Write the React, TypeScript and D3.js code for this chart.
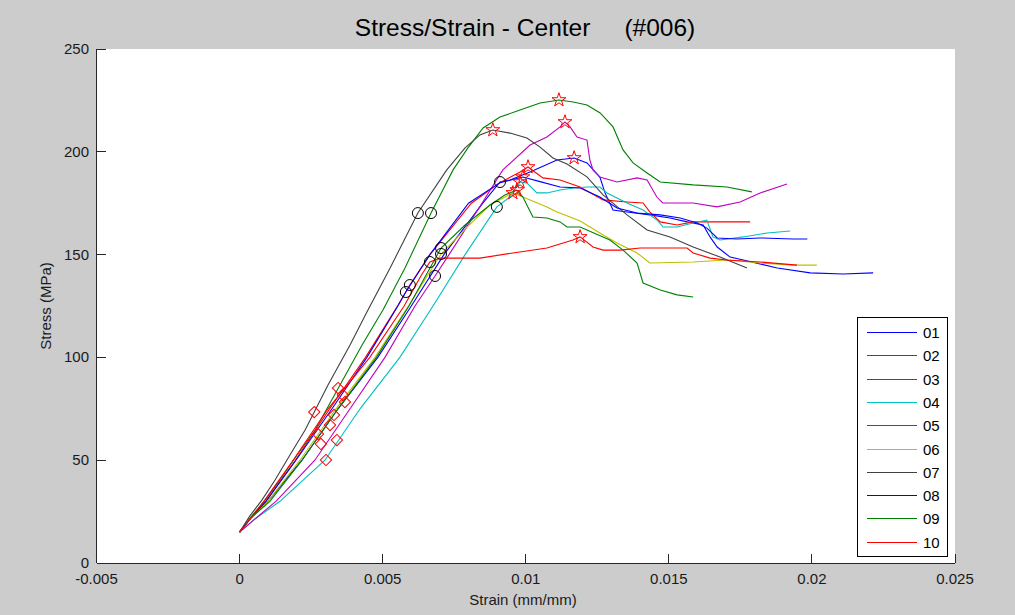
import React from "react";
import * as d3 from "d3";

type P = [number, number];

const TITLE = "Stress/Strain - Center     (#006)";
const X_LABEL = "Strain (mm/mm)";
const Y_LABEL = "Stress (MPa)";
const X_TICKS = [-0.005, 0, 0.005, 0.01, 0.015, 0.02, 0.025];
const X_TICK_LABELS = ["-0.005", "0", "0.005", "0.01", "0.015", "0.02", "0.025"];
const Y_TICKS = [0, 50, 100, 150, 200, 250];
const NAMES = ["01", "02", "03", "04", "05", "06", "07", "08", "09", "10"];
const COLORS = ["#0000ff", "#008000", "#ff0000", "#00bfbf", "#bf00bf", "#bfbf00", "#404040", "#0000ff", "#008000", "#ff0000"];

const s01: P[] = [[0,15],[0.0004,22],[0.00099,30],[0.00218,50],[0.00344,75],[0.00483,100],[0.006,125],[0.00714,150],[0.0085,175],[0.0091,185.3],[0.00945,186.3],[0.01015,190.2],[0.01109,196],[0.01169,197],[0.01214,194.6],[0.01259,187.7],[0.01277,180],[0.01305,171.7],[0.01354,170.7],[0.01434,169.3],[0.01504,167.8],[0.01564,165.9],[0.0162,164.4],[0.01644,158.6],[0.01669,153.7],[0.01714,148.8],[0.0176,147.4],[0.01879,143.5],[0.01994,141.1],[0.02109,140.6],[0.02214,141.1]];
const s02: P[] = [[0,15.1],[0.00043,22.9],[0.00089,30.6],[0.00141,40.4],[0.00201,52.5],[0.00264,64.7],[0.00351,86.6],[0.00428,106],[0.00501,123.1],[0.00578,143.5],[0.00669,170.2],[0.00746,191.2],[0.00798,201.9],[0.00851,211.6],[0.0091,216.9],[0.0098,220.3],[0.0105,223.7],[0.01116,225.2],[0.01166,224.2],[0.01214,222.8],[0.0126,218.9],[0.01305,212.1],[0.0134,200.9],[0.01375,194.6],[0.01424,189.7],[0.0147,185.3],[0.01585,183.9],[0.01703,182.9],[0.0179,180.5]];
const s03: P[] = [[0,15],[0.0004,22],[0.00092,30],[0.00195,50],[0.00315,75],[0.0044,100],[0.00552,125],[0.00595,135.2],[0.00665,150],[0.0081,175],[0.0091,185],[0.0098,190.2],[0.01008,192.6],[0.0106,187.3],[0.0112,186.3],[0.0119,182.9],[0.0127,176.6],[0.01354,175.6],[0.0141,175.1],[0.01434,170.7],[0.0147,165.9],[0.01529,164.4],[0.01585,165.9],[0.01679,165.9],[0.01784,165.9]];
const s04: P[] = [[0,15],[0.0005,21],[0.00141,30],[0.00298,50],[0.00421,75],[0.0056,100],[0.00676,125],[0.00788,150],[0.00899,173.2],[0.00945,178],[0.0098,185.3],[0.01004,184.8],[0.01039,180],[0.01074,180],[0.0112,181.4],[0.01166,182.4],[0.01214,182.9],[0.01259,182.9],[0.01284,180],[0.01354,175.1],[0.0141,171.7],[0.01459,166.8],[0.0148,163.4],[0.01529,163.4],[0.01585,165.4],[0.01633,166.8],[0.01654,158.6],[0.01679,157.1],[0.0176,158.6],[0.01844,160.5],[0.01924,161.5]];
const s05: P[] = [[0,15],[0.0005,21],[0.00127,30],[0.00263,50],[0.00386,75],[0.00508,100],[0.00613,125],[0.00683,139.6],[0.00732,150],[0.00847,175],[0.0092,191.2],[0.01015,203.3],[0.01074,207.2],[0.0112,212.1],[0.01137,214.5],[0.01155,212.1],[0.01179,207.2],[0.01214,205.7],[0.01224,196],[0.01235,191.2],[0.01259,187.7],[0.01319,185.3],[0.01389,187.3],[0.01424,186.3],[0.01458,178],[0.01479,175.1],[0.01585,175.1],[0.01668,173.2],[0.01749,175.6],[0.01819,180],[0.01913,184.3]];
const s06: P[] = [[0,15],[0.0004,22],[0.00099,30],[0.00211,50],[0.00337,75],[0.00473,100],[0.0059,125],[0.00704,150.3],[0.00795,163.4],[0.00875,174.1],[0.00955,180],[0.0099,178],[0.01074,173.2],[0.01109,170.7],[0.01155,168.3],[0.0119,166.3],[0.01259,160.5],[0.01319,155.6],[0.01389,150.8],[0.01434,145.9],[0.01585,146.4],[0.01703,147.4],[0.01819,145.9],[0.01934,144.9],[0.02017,144.9]];
const s07: P[] = [[0,15.1],[0.00036,22.9],[0.00078,30.6],[0.00124,40.4],[0.00176,52.5],[0.00229,64.7],[0.00309,86.6],[0.00386,106],[0.00445,122.1],[0.00526,143.5],[0.00623,170.2],[0.00724,191.2],[0.00788,201.9],[0.0084,208.2],[0.00885,210.6],[0.00945,209.1],[0.01004,206.7],[0.0105,202.3],[0.01095,197],[0.01144,194.1],[0.01214,187.8],[0.0127,179],[0.01354,169.3],[0.01424,162],[0.01504,158.6],[0.01585,153.7],[0.01679,148.8],[0.01773,143.5]];
const s08: P[] = [[0,15],[0.0004,22],[0.00092,30],[0.00197,50],[0.00323,75],[0.00445,100],[0.00553,125],[0.00581,131.8],[0.00665,150],[0.008,175],[0.0091,185],[0.0099,187.7],[0.0105,185.5],[0.0112,182.9],[0.0119,182.4],[0.01259,178],[0.01319,172.7],[0.01389,170.2],[0.0147,169.3],[0.0154,167.8],[0.01599,165.4],[0.01633,162.9],[0.01669,158.1],[0.01738,157.6],[0.01819,158.1],[0.01934,157.6],[0.01984,157.6]];
const s09: P[] = [[0,15],[0.0004,22],[0.00106,30],[0.00218,50],[0.00344,75],[0.00478,100],[0.00592,125],[0.00704,153.2],[0.00788,164.4],[0.00875,174.1],[0.00927,179],[0.00969,181.4],[0.0099,178],[0.01025,168.3],[0.01074,167.8],[0.0112,165.9],[0.01144,163.4],[0.0119,163.4],[0.01294,157.1],[0.0134,152.2],[0.01389,145.9],[0.0141,136.2],[0.0147,132.8],[0.01529,130.4],[0.01585,129.4]];
const s10: P[] = [[0,15],[0.0004,22],[0.00085,30],[0.00187,50],[0.00309,75],[0.00455,100],[0.00575,125],[0.00635,140],[0.00665,146.4],[0.007,148.3],[0.00724,148.3],[0.0084,148.3],[0.00955,150.8],[0.01074,153.2],[0.01165,157.1],[0.0119,158.6],[0.01235,153.7],[0.0127,152.2],[0.0133,152.2],[0.014,153.2],[0.0147,153.2],[0.01564,153.2],[0.01585,150.8],[0.01644,148.3],[0.01703,147.4],[0.01819,146.4],[0.01948,144.9]];
const SERIES = [s01, s02, s03, s04, s05, s06, s07, s08, s09, s10];

const DIAMONDS: P[] = [[0.00261,73.4],[0.00344,85.1],[0.00361,81.7],[0.0034,59.8],[0.00302,50.1],[0.00284,57.9],[0.00316,67.1],[0.00368,78.3],[0.00274,62.7],[0.0033,72]];
const CIRCLES: P[] = [[0.00581,131.8],[0.00595,135.2],[0.00665,146.4],[0.00704,153.2],[0.00704,150.3],[0.00683,139.6],[0.00899,173.2],[0.0091,185.3],[0.00623,170.2],[0.00669,170.2]];
const STARS: P[] = [[0.01116,225.2],[0.00885,210.6],[0.01137,214.5],[0.01169,197],[0.0119,158.6],[0.01008,192.6],[0.0099,187.7],[0.0098,185.3],[0.00969,181.4],[0.00955,180]];

const W = 1015, H = 615;
const L = 96.5, R = 955, T = 49, B = 563;
const FONT = "Liberation Sans, Arial, sans-serif";

export default function App() {
  const x = d3.scaleLinear().domain([-0.005, 0.025]).range([L, R]);
  const y = d3.scaleLinear().domain([0, 250]).range([B, T]);
  const line = d3.line<P>().x(d => x(d[0])).y(d => y(d[1]));
  const star = d3.symbol().type(d3.symbolStar).size(60)() as string;
  const diamond = d3.symbol().type(d3.symbolSquare).size(64)() as string;
  const legendRows = NAMES.map((_, i) => Math.round(332 + i * 23.3) + 0.5);
  return (
    <svg width={W} height={H} style={{ position: "absolute", left: 0, top: 0 }} fontFamily={FONT}>
      <rect x={0} y={0} width={W} height={H} fill="#cccccc" />
      <rect x={L} y={T} width={R - L} height={B - T} fill="#ffffff" />
      <g fill="none" strokeWidth={1.1}>
        {SERIES.map((s, i) => (
          <path key={i} d={line(s) || ""} stroke={COLORS[i]} />
        ))}
      </g>
      <g fill="none" stroke="#ff0000" strokeWidth={1}>
        {DIAMONDS.map((p, i) => (
          <path key={i} d={diamond} transform={`translate(${x(p[0])},${y(p[1])}) rotate(45)`} />
        ))}
        {STARS.map((p, i) => (
          <path key={i} d={star} transform={`translate(${x(p[0])},${y(p[1])})`} />
        ))}
      </g>
      <g fill="none" stroke="#000000" strokeWidth={1}>
        {CIRCLES.map((p, i) => (
          <circle key={i} cx={x(p[0])} cy={y(p[1])} r={5.5} />
        ))}
      </g>
      <g stroke="#262626" strokeWidth={1} shapeRendering="crispEdges">
        <line x1={L} x2={L} y1={T} y2={B} />
        <line x1={L} x2={R} y1={B} y2={B} />
        {X_TICKS.map((t, i) => (
          <line key={i} x1={x(t)} x2={x(t)} y1={B} y2={B - 9} />
        ))}
        {Y_TICKS.map((t, i) => (
          <line key={i} x1={L} x2={L + 9} y1={y(t)} y2={y(t)} />
        ))}
      </g>
      <g fill="#1a1a1a" fontSize={15}>
        {X_TICKS.map((t, i) => (
          <text key={i} x={x(t)} y={584} textAnchor="middle">{X_TICK_LABELS[i]}</text>
        ))}
        {Y_TICKS.map((t, i) => (
          <text key={i} x={89} y={y(t) + 5} textAnchor="end">{t}</text>
        ))}
        <text x={523} y={605} textAnchor="middle">{X_LABEL}</text>
        <text transform={`translate(51,${(T + B) / 2}) rotate(-90)`} textAnchor="middle">{Y_LABEL}</text>
      </g>
      <text x={525} y={36} textAnchor="middle" fontSize={24.5} fill="#000" style={{ whiteSpace: "pre" }}>{TITLE}</text>
      <g>
        <rect x={857.5} y={317.5} width={90} height={239} fill="#ffffff" stroke="#000" strokeWidth={1} shapeRendering="crispEdges" />
        {NAMES.map((n, i) => (
          <g key={n}>
            <line x1={867} x2={917} y1={legendRows[i]} y2={legendRows[i]} stroke={COLORS[i]} strokeWidth={1.2} />
            <text x={923} y={legendRows[i] + 5} fontSize={15} fill="#000">{n}</text>
          </g>
        ))}
      </g>
    </svg>
  );
}
